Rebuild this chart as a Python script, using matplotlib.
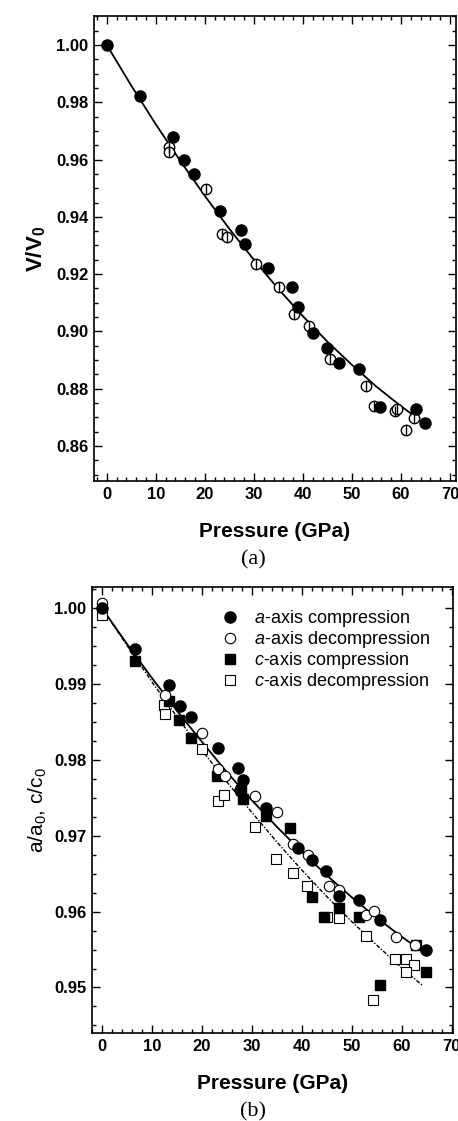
import matplotlib
matplotlib.use("Agg")
import matplotlib.pyplot as plt
from matplotlib.ticker import MultipleLocator, FormatStrFormatter

plt.rcParams['font.family'] = ['Liberation Sans', 'DejaVu Sans']
plt.rcParams['mathtext.fontset'] = 'custom'
plt.rcParams['mathtext.rm'] = 'Liberation Sans'
plt.rcParams['mathtext.it'] = 'Liberation Sans:italic'
plt.rcParams['mathtext.bf'] = 'Liberation Sans:bold'

# ---- (a) V/V0 ----
p_comp = [0, 6.8, 13.5, 15.8, 17.7, 23.0, 27.3, 28.2, 32.9, 37.8, 39.0, 42.1,
          44.9, 47.3, 51.5, 55.7, 63.0, 64.9]
v_comp = [1.000, 0.9822, 0.9679, 0.9599, 0.9549, 0.9421, 0.9354, 0.9304, 0.9221,
          0.9154, 0.9087, 0.8994, 0.8941, 0.8890, 0.8868, 0.8735, 0.8728, 0.8680]
p_decomp = [12.7, 12.6, 20.3, 23.4, 24.5, 30.5, 35.1, 38.2, 41.2, 45.5, 52.8,
            54.5, 58.8, 59.2, 61.0, 62.7]
v_decomp = [0.9645, 0.9627, 0.9496, 0.9339, 0.9329, 0.9236, 0.9154, 0.9061, 0.9019,
            0.8903, 0.8811, 0.8740, 0.8722, 0.8729, 0.8656, 0.8697]
# fitted curve
p_fit = [0, 5, 10, 15, 20, 25, 30, 35, 40, 45, 50, 55, 60, 63.5]
v_fit = [1.0, 0.9858, 0.9723, 0.9595, 0.9473, 0.9358, 0.9250, 0.9148, 0.9053,
         0.8964, 0.8883, 0.8807, 0.8739, 0.8695]

# ---- (b) a/a0, c/c0 ----
pa_comp = [0, 6.7, 13.4, 15.7, 17.8, 23.2, 27.3, 28.3, 27.6, 32.9, 39.3, 42.1,
           44.8, 47.5, 51.5, 55.7, 64.9]
a_comp = [1.0, 0.9946, 0.9899, 0.9871, 0.9857, 0.9816, 0.9789, 0.9773, 0.9760,
          0.9737, 0.9684, 0.9668, 0.9654, 0.9620, 0.9615, 0.9589, 0.9550]
pa_decomp = [0.1, 12.7, 20.1, 23.3, 24.7, 30.7, 35.1, 38.3, 41.3, 45.5, 47.5,
             52.9, 54.4, 58.9, 62.6]
a_decomp = [1.0007, 0.9885, 0.9836, 0.9788, 0.9779, 0.9752, 0.9731, 0.9689, 0.9675,
            0.9634, 0.9628, 0.9595, 0.9601, 0.9567, 0.9556]
pc_comp = [6.7, 13.4, 15.5, 17.9, 23.1, 27.8, 28.3, 32.9, 37.6, 42.1, 44.5, 47.5,
           51.5, 55.7, 62.9, 64.9]
c_comp = [0.9931, 0.9878, 0.9852, 0.9829, 0.9779, 0.9760, 0.9749, 0.9726, 0.9710,
          0.9619, 0.9593, 0.9605, 0.9593, 0.9503, 0.9556, 0.9521]
pc_decomp = [0, 12.4, 12.6, 20.1, 23.3, 24.4, 30.7, 34.9, 38.3, 41.1, 45.1, 47.5,
             52.8, 54.3, 58.7, 60.9, 62.5, 60.9]
c_decomp = [0.9991, 0.9873, 0.9860, 0.9814, 0.9746, 0.9754, 0.9712, 0.9670, 0.9651,
            0.9634, 0.9593, 0.9592, 0.9568, 0.9484, 0.9538, 0.9537, 0.9529, 0.9520]
pa_fit = [0, 5, 10, 15, 20, 25, 30, 35, 40, 45, 50, 55, 60, 63]
a_fit = [1.0, 0.9953, 0.9908, 0.9865, 0.9824, 0.9784, 0.9747, 0.9712, 0.9679,
         0.9648, 0.9619, 0.9592, 0.9567, 0.9553]
pc_fit = [0, 5, 10, 15, 20, 25, 30, 35, 40, 45, 50, 55, 60, 64.3]
c_fit = [1.0, 0.9951, 0.9903, 0.9857, 0.9813, 0.9771, 0.9731, 0.9692, 0.9655,
         0.9620, 0.9587, 0.9556, 0.9526, 0.9502]

W, H = 458, 1121
fig = plt.figure(figsize=(W / 100, H / 100), dpi=100)


def style_axes(ax, ymajor, yminor):
    ax.xaxis.set_major_locator(MultipleLocator(10))
    ax.xaxis.set_minor_locator(MultipleLocator(2))
    ax.yaxis.set_major_locator(MultipleLocator(ymajor))
    ax.yaxis.set_minor_locator(MultipleLocator(yminor))
    ax.yaxis.set_major_formatter(FormatStrFormatter('%.2f'))
    ax.tick_params(which='both', direction='in', top=True, right=True, width=1.0)
    ax.tick_params(which='major', length=6, labelsize=12, pad=4)
    ax.tick_params(which='minor', length=3)
    for s in ax.spines.values():
        s.set_linewidth(1.2)
    for lab in ax.get_xticklabels() + ax.get_yticklabels():
        lab.set_fontweight('bold')
    ax.set_xlabel('Pressure (GPa)', fontsize=15, fontweight='bold', labelpad=15)


# panel (a)
ax1 = fig.add_axes([94 / W, 1 - 481 / H, 362 / W, 465 / H])
ax1.plot(p_fit, v_fit, '-', color='black', lw=1.3, zorder=1)
ax1.plot(p_decomp, v_decomp, 'o', ms=7.5, mfc='white', mec='black', mew=1.0, zorder=2)
ax1.plot(p_decomp, v_decomp, '|', ms=7.5, color='black', mew=1.0, zorder=3)
ax1.plot(p_comp, v_comp, 'o', ms=8, color='black', zorder=4)
ax1.set_xlim(-2.6, 71.2)
ax1.set_ylim(0.8478, 1.0101)
style_axes(ax1, 0.02, 0.005)
ax1.set_ylabel(r'V/V$_\mathbf{0}$', fontsize=16, fontweight='bold', labelpad=6)
fig.text(253 / W, 1 - 560 / H, '(a)', ha='center', va='center', fontsize=16,
         family='Liberation Serif')

# panel (b)
ax2 = fig.add_axes([92 / W, 1 - 1033 / H, 361 / W, 446 / H])
ax2.plot(pa_fit, a_fit, '-', color='black', lw=1.3, zorder=1)
ax2.plot(pc_fit, c_fit, color='black', lw=1.0, dashes=(3, 1.2, 1, 1.2), zorder=1)
ax2.plot(pc_decomp, c_decomp, 's', ms=7, mfc='white', mec='black', mew=0.8,
         zorder=2, label=r'$c$-axis decompression')
ax2.plot(pc_comp, c_comp, 's', ms=7, color='black', zorder=3,
         label=r'$c$-axis compression')
ax2.plot(pa_decomp, a_decomp, 'o', ms=7.5, mfc='white', mec='black', mew=0.8,
         zorder=4, label=r'$a$-axis decompression')
ax2.plot(pa_comp, a_comp, 'o', ms=8, color='black', zorder=5,
         label=r'$a$-axis compression')
ax2.set_xlim(-2.0, 70.3)
ax2.set_ylim(0.944, 1.0028)
style_axes(ax2, 0.01, 0.0025)
ax2.set_ylabel(r'a/a$_0$, c/c$_0$', fontsize=15, labelpad=4)
h, l = ax2.get_legend_handles_labels()
order = [3, 2, 1, 0]
ax2.legend([h[i] for i in order], [l[i] for i in order], loc='upper left',
           frameon=False, fontsize=13, handletextpad=0.75, labelspacing=0.0,
           borderaxespad=0, borderpad=0, handlelength=1.2,
           bbox_to_anchor=(0.352, 0.953))
fig.text(253 / W, 1 - 1112 / H, '(b)', ha='center', va='center', fontsize=16,
         family='Liberation Serif')

fig.savefig('out.png', dpi=100)
